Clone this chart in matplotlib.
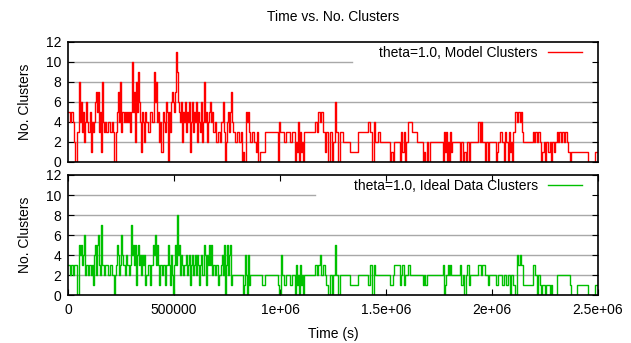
import numpy as np
import matplotlib
matplotlib.use('Agg')
from matplotlib import pyplot as plt

plt.rcParams['font.family'] = ['Liberation Sans', 'DejaVu Sans']

# time in kiloseconds, number of clusters (step data)
model_time_ks = [
    0, 9, 14, 24, 28, 33, 42, 52, 57, 61,
    66, 71, 75, 80, 85, 90, 94, 104, 108, 113,
    118, 123, 127, 132, 137, 142, 146, 151, 156, 160,
    165, 170, 175, 179, 189, 198, 208, 212, 217, 226,
    231, 236, 241, 245, 250, 255, 264, 269, 274, 278,
    283, 288, 292, 297, 302, 307, 311, 316, 321, 325,
    330, 335, 340, 344, 349, 354, 358, 363, 368, 377,
    387, 396, 406, 410, 415, 420, 425, 429, 434, 439,
    448, 453, 458, 462, 467, 472, 476, 481, 486, 491,
    495, 500, 505, 509, 514, 519, 524, 528, 533, 538,
    542, 547, 552, 557, 561, 566, 571, 575, 580, 585,
    590, 594, 599, 604, 608, 613, 618, 623, 627, 632,
    637, 642, 646, 651, 656, 660, 665, 670, 675, 679,
    684, 693, 698, 708, 717, 722, 731, 736, 741, 745,
    750, 755, 759, 764, 769, 774, 778, 788, 797, 807,
    816, 821, 825, 830, 840, 844, 849, 854, 858, 868,
    877, 887, 892, 896, 906, 929, 991, 995, 1000, 1019,
    1028, 1047, 1057, 1071, 1075, 1080, 1085, 1090, 1094, 1099,
    1104, 1108, 1113, 1165, 1175, 1179, 1189, 1193, 1203, 1212,
    1217, 1226, 1236, 1245, 1250, 1259, 1264, 1274, 1283, 1297,
    1330, 1368, 1415, 1425, 1434, 1443, 1448, 1462, 1472, 1519,
    1524, 1533, 1538, 1566, 1571, 1575, 1585, 1590, 1594, 1604,
    1623, 1646, 1675, 1679, 1684, 1693, 1698, 1708, 1769, 1774,
    1778, 1783, 1788, 1792, 1797, 1802, 1807, 1811, 1849, 1854,
    1863, 1868, 1877, 1882, 1892, 1896, 1934, 1943, 1948, 1953,
    1967, 1972, 1981, 1986, 2019, 2024, 2028, 2038, 2047, 2057,
    2061, 2066, 2075, 2080, 2085, 2090, 2094, 2099, 2108, 2118,
    2123, 2132, 2137, 2142, 2146, 2193, 2198, 2203, 2212, 2217,
    2226, 2231, 2236, 2245, 2250, 2255, 2264, 2274, 2278, 2283,
    2292, 2297, 2306, 2311, 2316, 2325, 2330, 2340, 2344, 2354,
    2358, 2368, 2373, 2453, 2486, 2500,
]
model_clusters = [
    5, 4, 5, 4, 2, 0, 3, 8, 4, 6,
    3, 5, 2, 4, 6, 4, 3, 5, 1, 4,
    3, 4, 6, 7, 5, 7, 3, 5, 1, 8,
    4, 3, 4, 3, 4, 3, 4, 3, 0, 3,
    5, 7, 4, 8, 3, 5, 4, 5, 4, 5,
    4, 5, 3, 5, 10, 5, 7, 2, 8, 5,
    9, 6, 4, 1, 5, 4, 2, 5, 4, 3,
    5, 4, 9, 6, 8, 4, 5, 2, 4, 1,
    5, 4, 3, 6, 5, 0, 5, 3, 6, 7,
    6, 5, 7, 11, 9, 6, 5, 4, 6, 2,
    5, 4, 6, 3, 5, 4, 6, 1, 4, 6,
    3, 5, 4, 6, 2, 5, 4, 3, 6, 2,
    4, 8, 4, 5, 2, 4, 5, 6, 4, 5,
    3, 4, 2, 3, 2, 4, 6, 3, 0, 2,
    4, 5, 3, 5, 7, 4, 3, 2, 3, 2,
    3, 0, 1, 0, 5, 4, 5, 3, 2, 3,
    2, 1, 3, 0, 1, 3, 0, 4, 3, 2,
    3, 2, 3, 0, 2, 1, 4, 0, 3, 1,
    2, 0, 3, 4, 3, 5, 4, 5, 3, 1,
    3, 0, 3, 0, 2, 6, 3, 0, 3, 2,
    1, 3, 4, 3, 0, 4, 2, 3, 2, 0,
    1, 0, 2, 0, 3, 1, 3, 0, 2, 4,
    3, 2, 0, 1, 0, 2, 0, 2, 0, 3,
    1, 3, 0, 2, 0, 3, 1, 2, 0, 2,
    0, 1, 0, 2, 0, 2, 4, 2, 4, 2,
    0, 2, 0, 2, 0, 1, 2, 3, 2, 0,
    3, 2, 0, 3, 1, 2, 0, 3, 5, 4,
    5, 4, 5, 3, 2, 3, 2, 3, 2, 3,
    2, 0, 1, 2, 0, 2, 1, 2, 0, 2,
    1, 2, 3, 2, 3, 2, 3, 2, 3, 2,
    1, 0, 1, 0, 1, 1,
]

ideal_time_ks = [
    0, 9, 14, 24, 28, 42, 52, 57, 61, 66,
    71, 75, 80, 85, 94, 99, 108, 113, 118, 123,
    127, 132, 137, 142, 146, 151, 156, 160, 170, 175,
    189, 198, 208, 217, 222, 226, 231, 236, 241, 245,
    250, 255, 259, 269, 274, 278, 288, 292, 297, 302,
    307, 311, 316, 321, 325, 330, 335, 340, 344, 349,
    354, 358, 363, 368, 377, 387, 392, 401, 406, 410,
    415, 420, 425, 429, 434, 443, 448, 458, 462, 472,
    476, 481, 486, 491, 495, 500, 505, 509, 514, 519,
    524, 528, 533, 538, 542, 547, 557, 561, 566, 571,
    575, 580, 585, 590, 594, 599, 604, 608, 613, 618,
    623, 627, 632, 642, 646, 651, 656, 660, 665, 670,
    675, 679, 684, 693, 698, 708, 712, 722, 726, 731,
    736, 741, 745, 750, 755, 759, 764, 769, 774, 825,
    830, 835, 840, 844, 849, 854, 858, 915, 929, 991,
    995, 1005, 1009, 1019, 1028, 1047, 1057, 1071, 1075, 1080,
    1085, 1090, 1094, 1099, 1104, 1108, 1113, 1165, 1175, 1179,
    1189, 1193, 1203, 1212, 1217, 1226, 1236, 1245, 1250, 1259,
    1264, 1274, 1283, 1330, 1368, 1415, 1425, 1434, 1443, 1448,
    1519, 1533, 1538, 1566, 1571, 1575, 1585, 1590, 1604, 1613,
    1675, 1679, 1684, 1693, 1769, 1774, 1778, 1783, 1792, 1797,
    1802, 1807, 1849, 1854, 1863, 1868, 1877, 1882, 1892, 1896,
    1934, 1948, 1953, 1967, 1981, 1986, 2019, 2028, 2047, 2057,
    2066, 2075, 2085, 2090, 2099, 2108, 2118, 2123, 2132, 2137,
    2146, 2193, 2203, 2212, 2217, 2226, 2231, 2236, 2250, 2255,
    2274, 2278, 2283, 2306, 2368, 2373, 2401, 2453, 2486, 2500,
]
ideal_clusters = [
    3, 2, 3, 2, 3, 0, 5, 4, 5, 3,
    4, 6, 2, 3, 2, 3, 2, 3, 1, 4,
    5, 2, 5, 6, 3, 2, 7, 3, 2, 3,
    2, 3, 2, 0, 2, 3, 5, 4, 2, 3,
    6, 4, 3, 2, 4, 3, 2, 3, 7, 4,
    5, 3, 5, 1, 4, 5, 3, 4, 2, 4,
    3, 4, 1, 2, 3, 1, 3, 5, 4, 6,
    3, 5, 3, 1, 3, 2, 3, 1, 3, 5,
    3, 1, 4, 2, 0, 3, 5, 3, 8, 4,
    5, 2, 4, 3, 2, 3, 4, 2, 3, 4,
    1, 3, 4, 2, 3, 4, 2, 4, 3, 1,
    3, 4, 2, 5, 4, 1, 4, 3, 5, 3,
    5, 2, 3, 2, 3, 1, 2, 3, 4, 2,
    5, 0, 3, 5, 2, 4, 5, 1, 2, 0,
    1, 4, 2, 0, 4, 1, 2, 1, 2, 1,
    0, 4, 2, 1, 2, 1, 2, 0, 3, 1,
    2, 0, 3, 1, 2, 0, 2, 3, 2, 3,
    4, 2, 3, 2, 1, 0, 2, 0, 2, 5,
    2, 0, 2, 1, 2, 1, 3, 0, 3, 2,
    1, 2, 3, 1, 2, 3, 1, 2, 3, 2,
    1, 2, 1, 2, 3, 0, 1, 2, 3, 2,
    3, 2, 3, 1, 2, 0, 2, 3, 1, 2,
    3, 2, 3, 2, 1, 2, 1, 2, 1, 2,
    1, 2, 0, 2, 1, 0, 4, 3, 4, 3,
    1, 3, 2, 0, 2, 1, 0, 1, 0, 1,
    0, 1, 0, 2, 1, 0, 1, 0, 1, 1,
]

y_ticks = [0, 2, 4, 6, 8, 10, 12]
x_ticks = [0, 500000, 1000000, 1500000, 2000000, 2500000]
x_tick_labels = ['0', '500000', '1e+06', '1.5e+06', '2e+06', '2.5e+06']

fig = plt.figure(figsize=(6.31, 3.43), dpi=100)
ax_top = fig.add_axes([0.1078, 0.5277, 0.8399, 0.3499])
ax_bot = fig.add_axes([0.1078, 0.1399, 0.8399, 0.3499])


def draw_panel(ax, t_ks, clusters, color, label, grid10_end):
    t = np.array(t_ks) * 1000.0
    for g in (2, 4, 6, 8):
        ax.axhline(g, color='#a8a8a8', lw=1.0, zorder=0)
    # the key blanks out the right part of the top grid line
    ax.axhline(10, xmax=grid10_end, color='#a8a8a8', lw=1.0, zorder=0)
    ax.step(t, clusters, where='post', color=color, lw=1.0, label=label)
    ax.set_xlim(0, 2.5e6)
    ax.set_ylim(0, 12)
    ax.set_yticks(y_ticks)
    ax.tick_params(direction='in', right=True, top=True, length=4,
                   width=0.8, labelsize=10, pad=5)
    for sp in ax.spines.values():
        sp.set_linewidth(1.2)
    ax.set_ylabel('No. Clusters', fontsize=10)
    ax.yaxis.set_label_coords(-0.068, 0.5)
    ax.legend(loc='center right', bbox_to_anchor=(0.970, 0.908),
              frameon=False, markerfirst=False, fontsize=10,
              handlelength=2.45, handletextpad=0.75,
              borderpad=0, borderaxespad=0)


draw_panel(ax_top, model_time_ks, model_clusters, '#ff0000',
           'theta=1.0, Model Clusters', 0.536)
draw_panel(ax_bot, ideal_time_ks, ideal_clusters, '#00c000',
           'theta=1.0, Ideal Data Clusters', 0.466)

ax_top.set_xticks([])
ax_bot.set_xticks(x_ticks)
ax_bot.set_xticklabels(x_tick_labels)
ax_bot.tick_params(axis='x', pad=6)
ax_bot.set_xlabel('Time (s)', fontsize=10, labelpad=7)

fig.text(0.5277, 0.950, 'Time vs. No. Clusters', ha='center', va='center',
         fontsize=10)

fig.savefig('out.png', dpi=100)
